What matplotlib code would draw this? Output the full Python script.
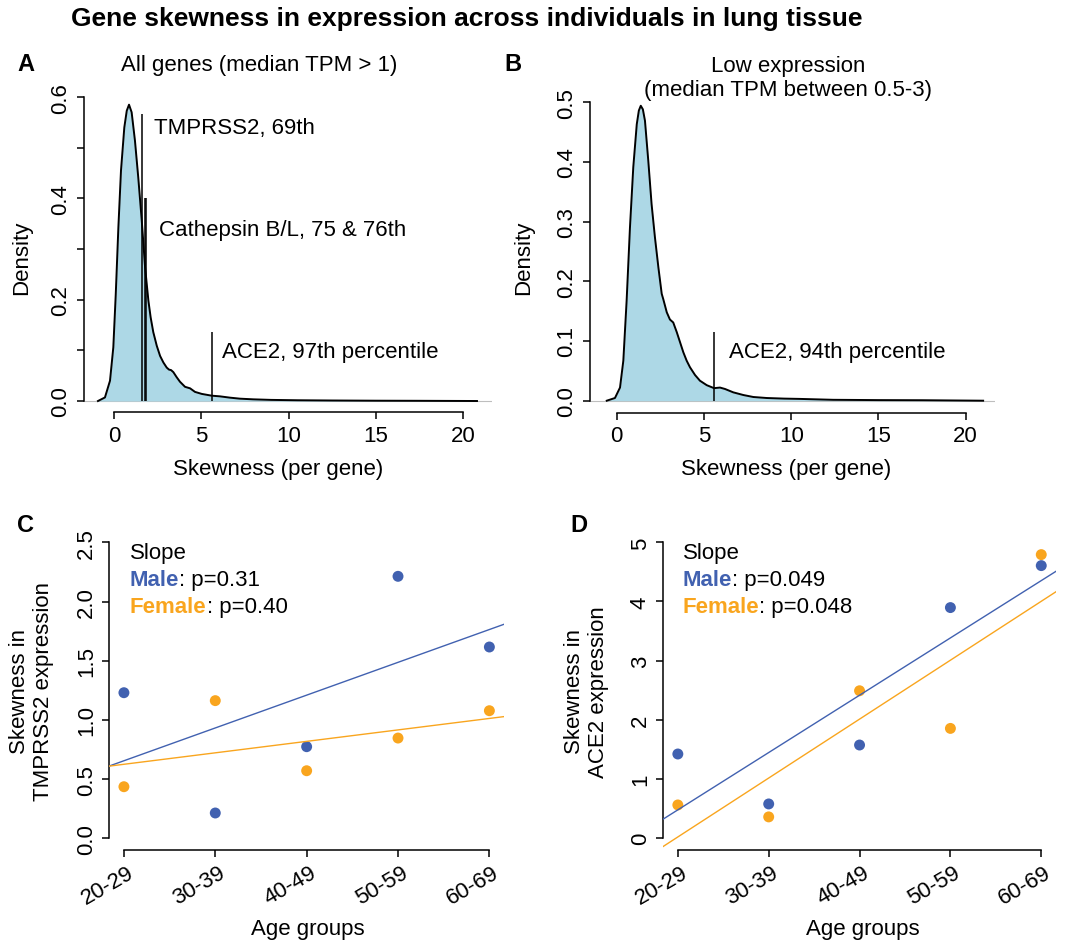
import numpy as np
import matplotlib
matplotlib.use("Agg")
import matplotlib.pyplot as plt

plt.rcParams['font.family'] = ['Liberation Sans', 'DejaVu Sans']

W, H = 1072, 945

# Density of per-gene skewness, all genes (median TPM > 1)
skew_all_x = [-0.92, -0.52, -0.23, -0.04, 0.10, 0.25, 0.40, 0.59, 0.73, 0.86,
              1.01, 1.20, 1.39, 1.59, 1.78, 1.97, 2.10, 2.25, 2.45, 2.64,
              2.83, 3.02, 3.15, 3.27, 3.40, 3.59, 3.78, 4.07, 4.36, 4.64,
              5.03, 5.60, 6.07, 6.65, 7.22, 7.98, 9.0, 10.5, 12.5, 15.0,
              17.5, 20.8]
skew_all_d = [0.0, 0.007, 0.040, 0.106, 0.211, 0.343, 0.455, 0.540, 0.573, 0.585,
              0.570, 0.514, 0.441, 0.356, 0.264, 0.198, 0.165, 0.136, 0.109, 0.089,
              0.076, 0.066, 0.062, 0.061, 0.057, 0.047, 0.038, 0.028, 0.025, 0.018,
              0.014, 0.0105, 0.0092, 0.0066, 0.0046, 0.0033, 0.0022, 0.0015, 0.001, 0.0006,
              0.0004, 0.0]

# Density of per-gene skewness, low expression genes (median TPM 0.5-3)
skew_low_x = [-0.57, -0.10, 0.19, 0.38, 0.57, 0.76, 0.95, 1.15, 1.27, 1.38,
              1.50, 1.62, 1.81, 2.00, 2.19, 2.39, 2.58, 2.67, 2.87, 3.05,
              3.24, 3.44, 3.63, 3.82, 4.01, 4.20, 4.49, 4.77, 5.16, 5.58,
              5.92, 6.21, 6.68, 7.26, 7.83, 8.6, 9.6, 10.5, 12.4, 15.0,
              17.5, 21.0]
skew_low_d = [0.0, 0.0045, 0.022, 0.067, 0.168, 0.290, 0.391, 0.463, 0.486, 0.494,
              0.488, 0.469, 0.402, 0.329, 0.274, 0.223, 0.179, 0.170, 0.148, 0.136,
              0.131, 0.115, 0.098, 0.081, 0.067, 0.056, 0.043, 0.0335, 0.026, 0.021,
              0.022, 0.0196, 0.014, 0.0095, 0.0062, 0.0045, 0.0035, 0.003, 0.0015, 0.001,
              0.0008, 0.0]

# Marker genes: skewness position and height of the marker segment
all_marker_x = [1.59, 1.80, 1.82, 5.60]
all_marker_top = [0.566, 0.40, 0.40, 0.1356]
low_marker_x = [5.58]
low_marker_top = [0.1156]

# Skewness by age group and sex
age_groups = ["20-29", "30-39", "40-49", "50-59", "60-69"]
tmprss2_male = [1.230, 0.214, 0.774, 2.213, 1.616]
tmprss2_female = [0.436, 1.163, 0.571, 0.847, 1.078]
ace2_male = [1.419, 0.574, 1.571, 3.896, 4.606]
ace2_female = [0.557, 0.355, 2.489, 1.852, 4.792]
p_tmprss2 = ("0.31", "0.40")
p_ace2 = ("0.049", "0.048")

BLUE = '#4161B0'
ORANGE = '#F9A51E'
FILL = '#ADD8E6'
FS = 16
LW = 1.1

fig = plt.figure(figsize=(W / 100, H / 100), dpi=100)


def px_axes(left, top, right, bottom):
    return fig.add_axes([left / W, 1 - bottom / H, (right - left) / W, (bottom - top) / H])


def ftext(x, y, s, **kw):
    kw.setdefault('ha', 'center')
    kw.setdefault('va', 'center')
    kw.setdefault('fontsize', FS)
    return fig.text(x / W, 1 - y / H, s, **kw)


def style_axes(ax, xbounds, ybounds, rotate_y=True):
    for side in ('top', 'right'):
        ax.spines[side].set_visible(False)
    for side in ('left', 'bottom'):
        ax.spines[side].set_linewidth(LW)
    ax.spines['left'].set_bounds(*ybounds)
    ax.spines['bottom'].set_bounds(*xbounds)
    ax.tick_params(direction='out', length=5, width=LW, labelsize=FS, pad=4)
    if rotate_y:
        for lab in ax.get_yticklabels():
            lab.set_rotation(90)
            lab.set_va('center')


def density_panel(ax, xs, ds, mx, mtop, xlim, ylim, yticks, ylabels):
    ax.set_xlim(*xlim)
    ax.set_ylim(*ylim)
    ax.axhline(0, color='#BEBEBE', lw=0.8, zorder=1)
    ax.fill_between(xs, ds, 0, color=FILL, lw=0, zorder=2)
    ax.plot(xs, ds, color='black', lw=1.4, zorder=3, solid_joinstyle='round')
    ax.vlines(mx, 0, mtop, color='black', lw=LW, zorder=4)
    ax.set_xticks([0, 5, 10, 15, 20])
    ax.set_yticks(yticks)
    ax.set_yticklabels(ylabels)
    style_axes(ax, (0, 20), (yticks[0], yticks[-1]))


def age_panel(ax, male, female, pvals, ylim, yticks, ylabels, legend_xy):
    x = np.arange(1, len(age_groups) + 1)
    ax.set_xlim(0.84, 5.16)
    ax.set_ylim(*ylim)
    ax.scatter(x, male, s=62, color=BLUE, edgecolors='none', zorder=2)
    ax.scatter(x, female, s=62, color=ORANGE, edgecolors='none', zorder=2)
    xs = np.array(ax.get_xlim())
    for vals, col in ((male, BLUE), (female, ORANGE)):
        b1, b0 = np.polyfit(x, vals, 1)
        ax.plot(xs, b0 + b1 * xs, color=col, lw=1.0, zorder=3)
    ax.set_xticks(x)
    ax.set_xticklabels([])
    ax.set_yticks(yticks)
    ax.set_yticklabels(ylabels)
    style_axes(ax, (1, 5), (yticks[0], yticks[-1]))
    for xi, lab in zip(x, age_groups):
        ax.annotate(lab, xy=(xi, 0), xycoords=('data', 'axes fraction'),
                    xytext=(5.8, -15), textcoords='offset points',
                    rotation=30, rotation_mode='anchor', ha='right', va='center',
                    fontsize=FS)
    lx, ly0, ly1, ly2 = legend_xy
    ax.text(lx, ly0, "Slope", ha='left', va='center', fontsize=FS)
    for yy, name, col, p in ((ly1, "Male", BLUE, pvals[0]), (ly2, "Female", ORANGE, pvals[1])):
        t = ax.text(lx, yy, name, ha='left', va='center', fontsize=FS,
                    color=col, fontweight='bold')
        ax.annotate(f": p={p}", xy=(1, 0.5), xycoords=t, ha='left', va='center',
                    fontsize=FS)


# Panel A
axA = px_axes(84, 93, 492, 413)
density_panel(axA, skew_all_x, skew_all_d, all_marker_x, all_marker_top,
              (-1.72, 21.66), (-0.0217, 0.61),
              [0, 0.2, 0.4, 0.6], ["0.0", "0.2", "0.4", "0.6"])
axA.set_yticks([0.1, 0.3, 0.5], minor=True)
axA.tick_params(which='minor', direction='out', length=5, width=LW)
axA.text(2.29, 0.540, "TMPRSS2, 69th", ha='left', va='center', fontsize=FS)
axA.text(2.58, 0.3395, "Cathepsin B/L, 75 & 76th", ha='left', va='center', fontsize=FS)
axA.text(6.17, 0.098, "ACE2, 97th percentile", ha='left', va='center', fontsize=FS)

# Panel B
axB = px_axes(590, 97.2, 995, 414)
density_panel(axB, skew_low_x, skew_low_d, low_marker_x, low_marker_top,
              (-1.53, 21.68), (-0.0206, 0.510),
              [0, 0.1, 0.2, 0.3, 0.4, 0.5], ["0.0", "0.1", "0.2", "0.3", "0.4", "0.5"])
axB.text(6.45, 0.0827, "ACE2, 94th percentile", ha='left', va='center', fontsize=FS)

# Panel C
axC = px_axes(109.3, 531.5, 504, 850.7)
age_panel(axC, tmprss2_male, tmprss2_female, p_tmprss2, (-0.096, 2.6),
          [0, 0.5, 1.0, 1.5, 2.0, 2.5], ["0.0", "0.5", "1.0", "1.5", "2.0", "2.5"],
          (1.066, 2.418, 2.184, 1.962))

# Panel D
axD = px_axes(663.3, 531.5, 1055.8, 850.7)
age_panel(axD, ace2_male, ace2_female, p_ace2, (-0.2, 5.2),
          [0, 1, 2, 3, 4, 5], ["0", "1", "2", "3", "4", "5"],
          (1.055, 4.83, 4.37, 3.92))

# Titles, panel letters and axis labels
ftext(467, 19, "Gene skewness in expression across individuals in lung tissue",
      fontsize=19, fontweight='bold')
ftext(26, 64.5, "A", fontsize=17, fontweight='bold')
ftext(513, 64.5, "B", fontsize=17, fontweight='bold')
ftext(25, 525, "C", fontsize=17, fontweight='bold')
ftext(578.7, 525, "D", fontsize=17, fontweight='bold')

ftext(258.8, 65, "All genes (median TPM > 1)")
ftext(787.7, 78.3, "Low expression\n(median TPM between 0.5-3)", linespacing=1.2)

ftext(22, 258, "Density", rotation=90)
ftext(524, 258, "Density", rotation=90)
ftext(278.3, 470, "Skewness (per gene)")
ftext(785.8, 470, "Skewness (per gene)")

ftext(31.7, 691.7, "Skewness in\nTMPRSS2 expression", rotation=90, linespacing=1.2)
ftext(586.7, 691.7, "Skewness in\nACE2 expression", rotation=90, linespacing=1.2)
ftext(308, 930, "Age groups")
ftext(862.5, 930, "Age groups")

fig.savefig("out.png", dpi=100, facecolor='white')
